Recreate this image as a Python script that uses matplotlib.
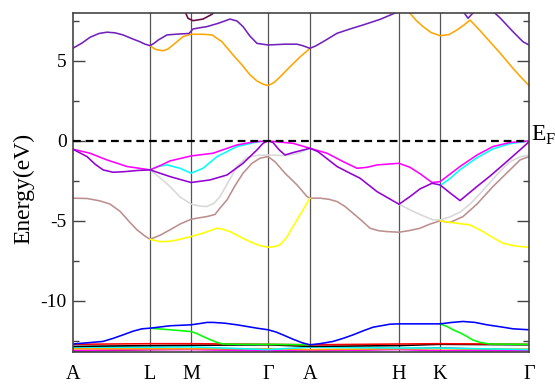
import numpy as np
import matplotlib
matplotlib.use("Agg")
import matplotlib.pyplot as plt
from matplotlib.ticker import MultipleLocator

plt.rcParams["font.family"] = ["Liberation Serif", "DejaVu Serif"]
plt.rcParams["mathtext.fontset"] = "custom"
plt.rcParams["mathtext.rm"] = "Liberation Serif"
plt.rcParams["axes.unicode_minus"] = False

# ── high-symmetry path (k in arbitrary path units) ───────────────────────────
KPTS = [0, 77, 118, 195, 237, 326, 367, 456]
KLABELS = ["A", "L", "M", "Γ", "A", "H", "K", "Γ"]

# ── bands: (k list, E list), None = break ────────────────────────────────────
cb_violet_k = [0, 9, 17, 26, 34, 42, 50, 58, 67, 72, 77, 81, 85, 94, 107, 116, 120, 127, 134, 145, 157, 164, 170,
               177, 184, 195, 212, 224, 230, 237, 243, 250, 264, 277, 290, 307, 324, 332, None,
               389, 395, 403, None,
               420, 427, 440, 450, 456]
cb_violet_e = [5.8, 6.12, 6.48, 6.72, 6.8, 6.76, 6.63, 6.42, 6.2, 6.05, 5.96, 6.1, 6.3, 6.63, 6.69, 6.72, 7.0,
               7.08, 7.15, 7.35, 7.62, 7.5, 7.15, 6.55, 6.1, 6.0, 6.05, 6.05, 5.95, 5.79, 5.95, 6.2, 6.73, 7.0,
               7.25, 7.6, 8.05, 8.4, None,
               8.2, 7.67, 8.2, None,
               8.1, 7.7, 6.83, 6.2, 6.0]

cb_orange_k = [77, 81, 84, 90, 95, 100, 110, 118, 130, 139, 149, 160, 169, 177, 184, 190, 195, 201, 207, 217, 227,
               237, None,
               332, 337, 343, 350, 358, 367, 376, 384, 391, 397, 407, 417, 427, 440, 447, 456]
cb_orange_e = [5.96, 5.78, 5.7, 5.64, 5.75, 6.0, 6.52, 6.67, 6.67, 6.63, 6.2, 5.38, 4.75, 4.13, 3.75, 3.55, 3.46,
               3.65, 4.0, 4.64, 5.25, 5.79, None,
               8.3, 7.98, 7.55, 7.15, 6.78, 6.58, 6.65, 6.94, 7.25, 7.56, 6.9, 6.2, 5.5, 4.54, 4.05, 3.46]

cb_maroon_k = [112, 115, 120, 130, 139, 142]
cb_maroon_e = [8.1, 7.67, 7.52, 7.62, 7.92, 8.1]

vb_gray_k = [77, 87, 97, 107, 118, 127, 134, 141, 147, 155, 164, 174, 185, 195, 212, 225, 237, None,
             326, 337, 347, 360, 367, 377, 387, 397, 407, 417, 427, 437, 447, 456]
vb_gray_e = [-1.81, -2.3, -2.85, -3.5, -3.95, -4.08, -4.1, -3.9, -3.48, -2.6, -1.6, -1.02, -0.9, -0.88, -0.92,
             -0.78, -0.46, None,
             -3.96, -4.31, -4.6, -4.94, -4.94, -4.75, -4.45, -3.95, -3.3, -2.6, -1.9, -1.3, -1.0, -0.88]

vb_brown_k = [0, 14, 27, 37, 47, 57, 64, 72, 77, 87, 97, 107, 118, 127, 134, 142, 147, 154, 162, 170, 179, 187, 195,
              202, 212, 224, 234, 237, 247, 256, 264, 272, 280, 289, 297, 306, 314, 326, 337, 347, 357, 367, 377,
              390, 404, 420, 437, 447, 456]
vb_brown_e = [-3.58, -3.6, -3.75, -3.95, -4.4, -5.1, -5.56, -5.95, -6.15, -5.9, -5.56, -5.2, -4.9, -4.8, -4.73, -4.6,
              -4.2, -3.69, -2.8, -2.02, -1.4, -1.08, -0.98,
              -1.3, -2.02, -2.75, -3.48, -3.58, -3.58, -3.65, -3.79, -4.1, -4.52, -5.0, -5.46, -5.62, -5.67, -5.71,
              -5.6, -5.46, -5.2, -5.0, -5.1, -4.73, -3.95, -2.85, -1.81, -1.19, -0.98]

vb_yellow_k = [77, 87, 97, 107, 118, 130, 144, 150, 157, 167, 177, 187, 195, 201, 207, 214, 220, 230, 237, None,
               367, 384, 397, 410, 420, 430, 443, 456]
vb_yellow_e = [-6.15, -6.3, -6.28, -6.15, -5.98, -5.77, -5.46, -5.52, -5.67, -6.0, -6.3, -6.55, -6.65, -6.62, -6.5,
               -6.0, -5.35, -4.31, -3.58, None,
               -5.0, -5.15, -5.25, -5.67, -6.05, -6.4, -6.58, -6.65]

vb_cyan_k = [77, 85, 94, 107, 118, 130, 144, 164, 184, 195, None,
             367, 377, 387, 404, 420, 437, 456]
vb_cyan_e = [-1.81, -1.6, -1.5, -1.71, -2.02, -1.71, -0.98, -0.35, -0.06, 0.0, None,
             -2.8, -2.35, -1.8, -1.05, -0.5, -0.17, 0.0]

vb_magenta_k = [0, 17, 34, 54, 77, 87, 97, 118, 140, 164, 182, 195, 220, 237, 254, 270, 284, 294, 304, 326,
                337, 347, 359, 367, 387, 404, 420, 437, 456]
vb_magenta_e = [-0.52, -0.77, -1.19, -1.6, -1.81, -1.55, -1.25, -0.94, -0.77, -0.25, -0.05, 0.0, -0.15, -0.46,
                -0.77, -1.29, -1.71, -1.65, -1.5, -1.4, -1.65, -2.05, -2.6, -2.55, -1.6, -0.88, -0.35, -0.1, 0.0]

vb_violet_k = [0, 14, 22, 30, 40, 52, 64, 77, 97, 118, 137, 154, 170, 184, 190, 195, 200, 206, 212, 220, 237, 245,
               264, 277, 287, 304, 326, 337, 347, 359, 367, 377, 387, 404, 417, 430, 447, 456]
vb_violet_e = [-0.52, -0.98, -1.45, -1.81, -1.96, -1.92, -1.85, -1.81, -2.23, -2.6, -2.44, -2.13, -1.4, -0.56,
               -0.15, 0.0, -0.1, -0.55, -0.88, -0.73, -0.46, -0.67, -1.6, -2.02, -2.33, -3.17, -3.96, -3.48, -3.0,
               -2.65, -2.75, -3.25, -3.73, -2.85, -2.2, -1.5, -0.56, -0.06]

# semicore states
lo_k = KPTS
lo_red_e = [-12.72, -12.68, -12.68, -12.72, -12.75, -12.7, -12.68, -12.72]
lo_black_e = [-12.85, -12.8, -12.78, -12.75, -12.85, -12.8, -12.72, -12.75]
lo_cyan_e = [-12.9, -12.9, -12.88, -13.05, -12.9, -12.95, -12.95, -13.05]
lo_orange_e = [-13.0, -13.0, -13.0, -13.0, -13.05, -13.0, -13.0, -13.02]
lo_magenta_e = [-13.1, -13.05, -13.05, -13.12, -13.12, -13.05, -13.12, -13.12]
lo_maroon_e = [-13.15, -13.05, -13.02, -13.1, -13.15, -13.0, -12.95, -13.1]

green_k = [77, 97, 118, 124, 130, 137, 144, 150, 167, 195, 237, None,
           367, 374, 380, 387, 394, 400, 407, 417, 456]
green_e = [-11.71, -11.81, -11.92, -12.05, -12.23, -12.42, -12.6, -12.7, -12.72, -12.72, -12.75, None,
           -11.44, -11.6, -11.81, -12.0, -12.23, -12.45, -12.6, -12.7, -12.72]

blue_k = [0, 15, 30, 40, 50, 60, 69, 77, 97, 118, 127, 134, 140, 152, 164, 184, 195, 203, 210, 220, 230, 237,
          247, 260, 270, 280, 290, 300, 317, 326, 367, 379, 390, 402, 414, 427, 440, 456]
blue_e = [-12.7, -12.62, -12.54, -12.35, -12.13, -11.9, -11.75, -11.71, -11.56, -11.5, -11.42, -11.35, -11.35,
          -11.4, -11.5, -11.71, -11.81, -11.95, -12.13, -12.4, -12.64, -12.75, -12.68, -12.54, -12.35, -12.13,
          -11.88, -11.65, -11.46, -11.44, -11.44, -11.35, -11.29, -11.35, -11.5, -11.62, -11.75, -11.81]

E_MIN, E_MAX = -13.2, 8.0


def arr(v):
    return np.array([np.nan if x is None else x for x in v], dtype=float)


fig = plt.figure(figsize=(5.55, 3.84), dpi=100)
ax = fig.add_axes([73 / 555, 1 - 352 / 384, 456 / 555, 339 / 384])

LW = 1.15
bands = [
    (lo_k, lo_maroon_e, "#670748"),
    (lo_k, lo_magenta_e, "#ff00ff"),
    (lo_k, lo_orange_e, "#ffa500"),
    (lo_k, lo_cyan_e, "#00ffff"),
    (lo_k, lo_black_e, "#000000"),
    (lo_k, lo_red_e, "#ff0000"),
    (green_k, green_e, "#00ff00"),
    (blue_k, blue_e, "#0000ff"),
    (vb_gray_k, vb_gray_e, "#d8d8d8"),
    (vb_brown_k, vb_brown_e, "#bc8f8f"),
    (vb_yellow_k, vb_yellow_e, "#ffff00"),
    (vb_cyan_k, vb_cyan_e, "#00ffff"),
    (vb_magenta_k, vb_magenta_e, "#ff00ff"),
    (vb_violet_k, vb_violet_e, "#9400d3"),
    (cb_orange_k, cb_orange_e, "#ffa500"),
    (cb_violet_k, cb_violet_e, "#7221bc"),
    (cb_maroon_k, cb_maroon_e, "#670748"),
]
for k, e, c in bands:
    ax.plot(arr(k), arr(e), color=c, lw=LW, solid_joinstyle="round", solid_capstyle="round")

# high-symmetry lines
for kp in KPTS[1:-1]:
    ax.axvline(kp, color="#555555", lw=0.9, zorder=0.5)

# Fermi level
ax.axhline(0, color="black", lw=1.6, ls=(0, (3.5, 2.2)), zorder=5)
ax.text(KPTS[-1] + 2, 0, r"E$_{\mathrm{F}}$", fontsize=17, ha="left", va="baseline",
        clip_on=False)

ax.set_xlim(KPTS[0], KPTS[-1])
ax.set_ylim(E_MIN, E_MAX)
ax.set_xticks(KPTS)
ax.set_xticklabels(KLABELS, fontsize=14.5)
ax.tick_params(axis="x", length=0, pad=9.5)
ax.yaxis.set_major_locator(MultipleLocator(5))
ax.yaxis.set_minor_locator(MultipleLocator(2.5))
ax.tick_params(axis="y", which="both", direction="in", left=True, right=True,
               color="#444444", width=1.0, labelsize=14, pad=4.5)
ax.tick_params(axis="y", which="major", length=8.5)
ax.tick_params(axis="y", which="minor", length=4)
for s in ax.spines.values():
    s.set_color("#444444")
    s.set_linewidth(1.2)

ax.set_ylabel("Energy(eV)", fontsize=17)
ax.yaxis.set_label_coords(-0.0855, 0.482)

fig.savefig("out.png", dpi=100)
